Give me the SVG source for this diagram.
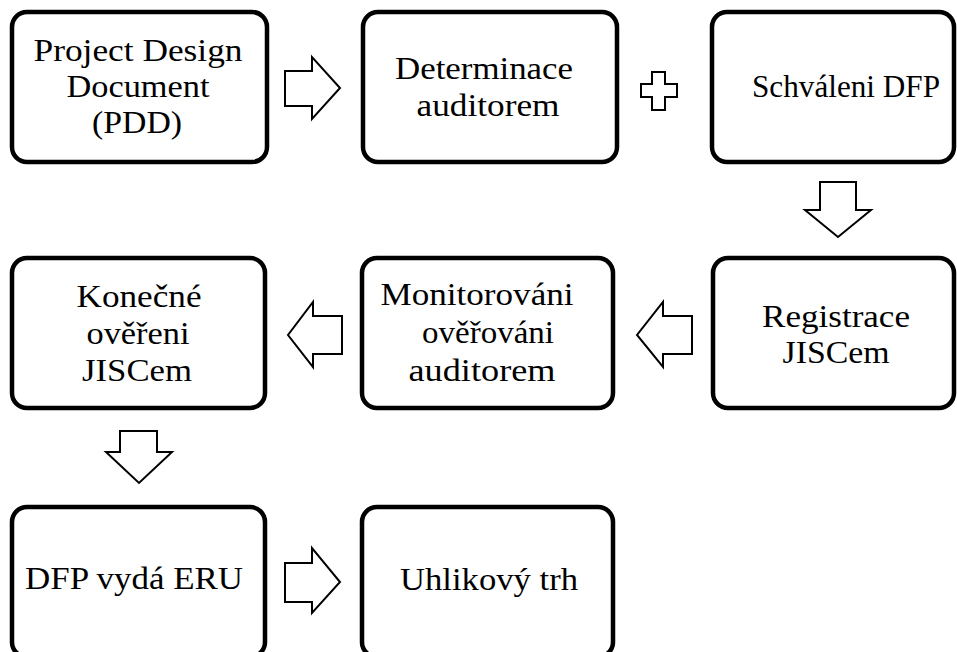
<svg xmlns="http://www.w3.org/2000/svg" width="957" height="652" viewBox="0 0 957 652">
  <style>
    .box { fill: #ffffff; stroke: #000000; stroke-width: 4.5; }
    .lbl { font-family: "Liberation Serif", "Times New Roman", serif; font-size: 32px; fill: #000000; text-anchor: middle; }
    .conn { fill: #ffffff; stroke: #000000; stroke-width: 2; stroke-linejoin: miter; }
  </style>
  <rect width="957" height="652" fill="#ffffff"/>

  <!-- row 1 -->
  <g id="pdd">
    <rect class="box" x="12" y="12" width="255" height="150" rx="15"/>
    <text class="lbl" x="138" y="61" textLength="209" lengthAdjust="spacingAndGlyphs">Project Design</text>
    <text class="lbl" x="138" y="97" textLength="143" lengthAdjust="spacingAndGlyphs">Document</text>
    <text class="lbl" x="137" y="133" textLength="90" lengthAdjust="spacingAndGlyphs">(PDD)</text>
  </g>
  <g id="determinace">
    <rect class="box" x="363" y="12" width="254" height="150" rx="15"/>
    <text class="lbl" x="484" y="79" textLength="178" lengthAdjust="spacingAndGlyphs">Determinace</text>
    <text class="lbl" x="488" y="116" textLength="143" lengthAdjust="spacingAndGlyphs">auditorem</text>
  </g>
  <g id="schvaleni">
    <rect class="box" x="712" y="12" width="242" height="150" rx="15"/>
    <text class="lbl" x="846" y="97" textLength="188" lengthAdjust="spacingAndGlyphs">Schváleni DFP</text>
  </g>

  <!-- row 2 -->
  <g id="konecne">
    <rect class="box" x="12" y="258" width="253" height="150" rx="15"/>
    <text class="lbl" x="139" y="307" textLength="125" lengthAdjust="spacingAndGlyphs">Konečné</text>
    <text class="lbl" x="138" y="344" textLength="103" lengthAdjust="spacingAndGlyphs">ověřeni</text>
    <text class="lbl" x="137" y="381" textLength="110" lengthAdjust="spacingAndGlyphs">JISCem</text>
  </g>
  <g id="monitorovani">
    <rect class="box" x="362" y="258" width="251" height="150" rx="15"/>
    <text class="lbl" x="477" y="305" textLength="193" lengthAdjust="spacingAndGlyphs">Monitorováni</text>
    <text class="lbl" x="488" y="343" textLength="132" lengthAdjust="spacingAndGlyphs">ověřováni</text>
    <text class="lbl" x="482" y="381" textLength="147" lengthAdjust="spacingAndGlyphs">auditorem</text>
  </g>
  <g id="registrace">
    <rect class="box" x="713" y="258" width="241" height="150" rx="15"/>
    <text class="lbl" x="836" y="327" textLength="148" lengthAdjust="spacingAndGlyphs">Registrace</text>
    <text class="lbl" x="836" y="363" textLength="107" lengthAdjust="spacingAndGlyphs">JISCem</text>
  </g>

  <!-- row 3 -->
  <g id="dfp-eru">
    <rect class="box" x="12" y="507" width="253" height="150" rx="15"/>
    <text class="lbl" x="134" y="589" textLength="218" lengthAdjust="spacingAndGlyphs">DFP vydá ERU</text>
  </g>
  <g id="uhlikovy-trh">
    <rect class="box" x="362" y="507" width="251" height="150" rx="15"/>
    <text class="lbl" x="489" y="590" textLength="178" lengthAdjust="spacingAndGlyphs">Uhlikový trh</text>
  </g>

  <!-- block arrows and the plus sign between steps -->
  <g id="connectors">
    <polygon class="conn" points="285,71 312,71 312,57 340,88 312,119 312,106 285,106"/>
    <polygon class="conn" points="652,72 665,72 665,84 677,84 677,97 665,97 665,110 652,110 652,97 641,97 641,84 652,84"/>
    <polygon class="conn" points="820,182 856,182 856,210 871,210 838,237 805,210 820,210"/>
    <polygon class="conn" points="692,316 663,316 663,302 637,335 663,367 663,354 692,354"/>
    <polygon class="conn" points="342,316 313,316 313,302 288,335 313,367 313,354 342,354"/>
    <polygon class="conn" points="120,431 157,431 157,452 172,452 139,483 106,452 120,452"/>
    <polygon class="conn" points="285,563 312,563 312,548 340,582 312,613 312,602 285,602"/>
  </g>
</svg>
